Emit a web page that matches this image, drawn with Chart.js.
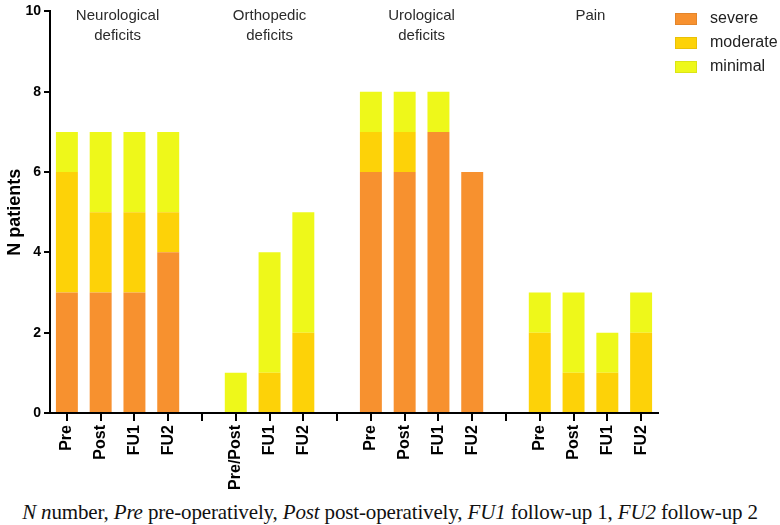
<!DOCTYPE html>
<html>
<head>
<meta charset="utf-8">
<script src="https://cdn.jsdelivr.net/npm/chart.js@4"></script>
<style>
  body { margin: 0; background: #fff; }
  #wrap { position: relative; width: 780px; height: 525px; }
  #box { position: absolute; left: 0; top: 0; width: 780px; height: 490px; }
  #note {
    position: absolute; left: 0; top: 501px; width: 780px; text-align: center; line-height: 23px;
    font-family: "Liberation Serif", "DejaVu Serif", serif; font-size: 21px; color: #111;
    letter-spacing: -0.15px;
  }
</style>
</head>
<body>
<div id="wrap">
  <div id="box"><canvas id="deficitChart"></canvas></div>
  <div id="note"><i>N n</i>umber, <i>Pre</i> pre-operatively, <i>Post</i> post-operatively, <i>FU1</i> follow-up 1, <i>FU2</i> follow-up 2</div>
</div>
<script>
// timepoints, '' = gap between groups
const timeLabels = ['Pre', 'Post', 'FU1', 'FU2', '', 'Pre/Post', 'FU1', 'FU2', '', 'Pre', 'Post', 'FU1', 'FU2', '', 'Pre', 'Post', 'FU1', 'FU2'];
const severeData   = [3, 3, 3, 4, null, 0, 0, 0, null, 6, 6, 7, 6, null, 0, 0, 0, 0];
const moderateData = [3, 2, 2, 1, null, 0, 1, 2, null, 1, 1, 0, 0, null, 2, 1, 1, 2];
const minimalData  = [1, 2, 2, 2, null, 1, 3, 3, null, 1, 1, 1, 0, null, 1, 2, 1, 1];
const yTicks = [0, 2, 4, 6, 8, 10];

// group headers (first and last bar index of each group)
const groupTitles = [['Neurological', 'deficits'], ['Orthopedic', 'deficits'], ['Urological', 'deficits'], ['Pain']];
const groupStart = [0, 5, 9, 14];
const groupEnd = [3, 7, 12, 17];

const severityNames = ['severe', 'moderate', 'minimal'];
const severityColors = ['#f7912f', '#fdd208', '#eef81a'];

const headerPlugin = {
  id: 'headers',
  afterDraw(chart) {
    const ctx = chart.ctx;
    const xs = chart.scales.x;
    ctx.save();
    ctx.fillStyle = '#2b2b2b';
    ctx.font = '15px "Liberation Sans", Arial, sans-serif';
    ctx.textAlign = 'center';
    ctx.textBaseline = 'middle';
    groupTitles.forEach((lines, i) => {
      const cx = (xs.getPixelForValue(groupStart[i]) + xs.getPixelForValue(groupEnd[i])) / 2;
      lines.forEach((t, j) => ctx.fillText(t, cx, 16 + j * 20));
    });
    // legend
    ctx.textAlign = 'left';
    ctx.font = '16px "Liberation Sans", Arial, sans-serif';
    severityNames.forEach((name, i) => {
      const y = 19 + i * 24;
      ctx.fillStyle = severityColors[i];
      ctx.fillRect(675, y - 6, 22, 12);
      ctx.strokeStyle = 'rgba(0,0,0,0.08)';
      ctx.strokeRect(675.5, y - 5.5, 21, 11);
      ctx.fillStyle = '#222';
      ctx.fillText(name, 710, y);
    });
    ctx.restore();
  }
};

const ctx = document.getElementById('deficitChart').getContext('2d');
new Chart(ctx, {
  type: 'bar',
  data: {
    labels: timeLabels,
    datasets: [
      { label: severityNames[0], data: severeData, backgroundColor: severityColors[0] },
      { label: severityNames[1], data: moderateData, backgroundColor: severityColors[1] },
      { label: severityNames[2], data: minimalData, backgroundColor: severityColors[2] }
    ]
  },
  options: {
    responsive: true,
    maintainAspectRatio: false,
    animation: false,
    barPercentage: 0.65,
    categoryPercentage: 1,
    layout: { padding: { top: 8, right: 122, left: 0, bottom: 0 } },
    plugins: {
      legend: { display: false },
      tooltip: { enabled: false }
    },
    scales: {
      x: {
        stacked: true,
        grid: { display: true, drawOnChartArea: false, offset: false, tickLength: 8, color: '#000', lineWidth: 2 },
        border: { display: true, color: '#000', width: 2 },
        ticks: {
          minRotation: 90, maxRotation: 90, autoSkip: false, padding: 4,
          color: '#000', font: { family: '"Liberation Sans", Arial, sans-serif', size: 16, weight: 'bold' }
        },
        afterFit(scale) { scale.height = 77; }
      },
      y: {
        stacked: true,
        min: 0, max: 10,
        afterBuildTicks(scale) { scale.ticks = yTicks.map(v => ({ value: v })); },
        grid: { display: true, drawOnChartArea: false, tickLength: 6, color: '#000', lineWidth: 2 },
        border: { display: true, color: '#000', width: 2 },
        ticks: {
          padding: 3, color: '#000',
          font: { family: '"Liberation Sans", Arial, sans-serif', size: 14, weight: 'bold' }
        },
        title: {
          display: true, text: 'N patients', color: '#000', padding: { top: 4, bottom: 0 },
          font: { family: '"Liberation Sans", Arial, sans-serif', size: 18, weight: 'bold' }
        },
        afterFit(scale) { scale.width = 50; }
      }
    }
  },
  plugins: [headerPlugin]
});
</script>
</body>
</html>
